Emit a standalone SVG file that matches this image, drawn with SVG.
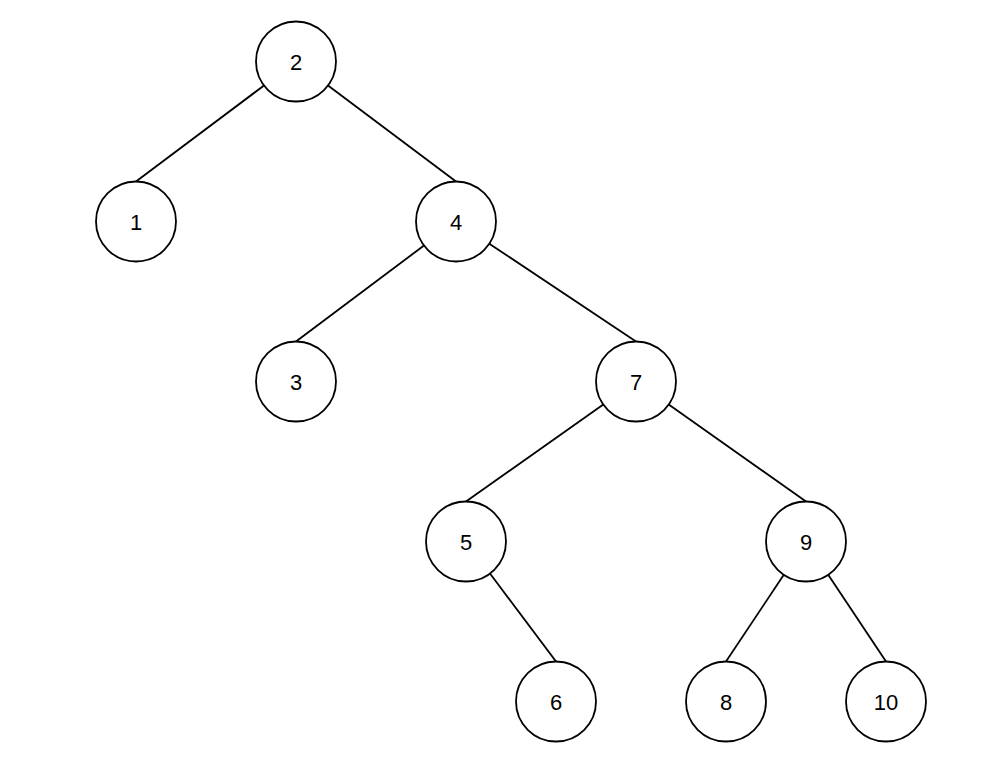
<svg xmlns="http://www.w3.org/2000/svg" width="981" height="778" viewBox="0 0 981 778">
<style>
.n circle{fill:#fff;stroke:#000;stroke-width:1.8}
.n text{font-family:"Liberation Sans",Arial,sans-serif;font-size:22px;text-anchor:middle;fill:#000}
#edges line{stroke:#000;stroke-width:1.8}
</style>
<rect width="981" height="778" fill="#fff"/>
<g id="edges">
<line x1="264" y1="85.5" x2="136" y2="181.5"/>
<line x1="328" y1="85.5" x2="456" y2="181.5"/>
<line x1="424" y1="245.5" x2="296" y2="341.5"/>
<line x1="489.3" y1="243.7" x2="636" y2="341.5"/>
<line x1="603.3" y1="404.6" x2="466" y2="501.5"/>
<line x1="668.7" y1="404.6" x2="806" y2="501.5"/>
<line x1="490" y1="573.5" x2="556" y2="661.5"/>
<line x1="783.8" y1="574.8" x2="726" y2="661.5"/>
<line x1="828.2" y1="574.8" x2="886" y2="661.5"/>
</g>
<g id="n2" class="n"><circle cx="296" cy="61.5" r="40"/><text x="296" y="69.5">2</text></g>
<g id="n1" class="n"><circle cx="136" cy="221.5" r="40"/><text x="136" y="229.5">1</text></g>
<g id="n4" class="n"><circle cx="456" cy="221.5" r="40"/><text x="456" y="229.5">4</text></g>
<g id="n3" class="n"><circle cx="296" cy="381.5" r="40"/><text x="296" y="389.5">3</text></g>
<g id="n7" class="n"><circle cx="636" cy="381.5" r="40"/><text x="636" y="389.5">7</text></g>
<g id="n5" class="n"><circle cx="466" cy="541.5" r="40"/><text x="466" y="549.5">5</text></g>
<g id="n9" class="n"><circle cx="806" cy="541.5" r="40"/><text x="806" y="549.5">9</text></g>
<g id="n6" class="n"><circle cx="556" cy="701.5" r="40"/><text x="556" y="709.5">6</text></g>
<g id="n8" class="n"><circle cx="726" cy="701.5" r="40"/><text x="726" y="709.5">8</text></g>
<g id="n10" class="n"><circle cx="886" cy="701.5" r="40"/><text x="886" y="709.5">10</text></g>
</svg>
